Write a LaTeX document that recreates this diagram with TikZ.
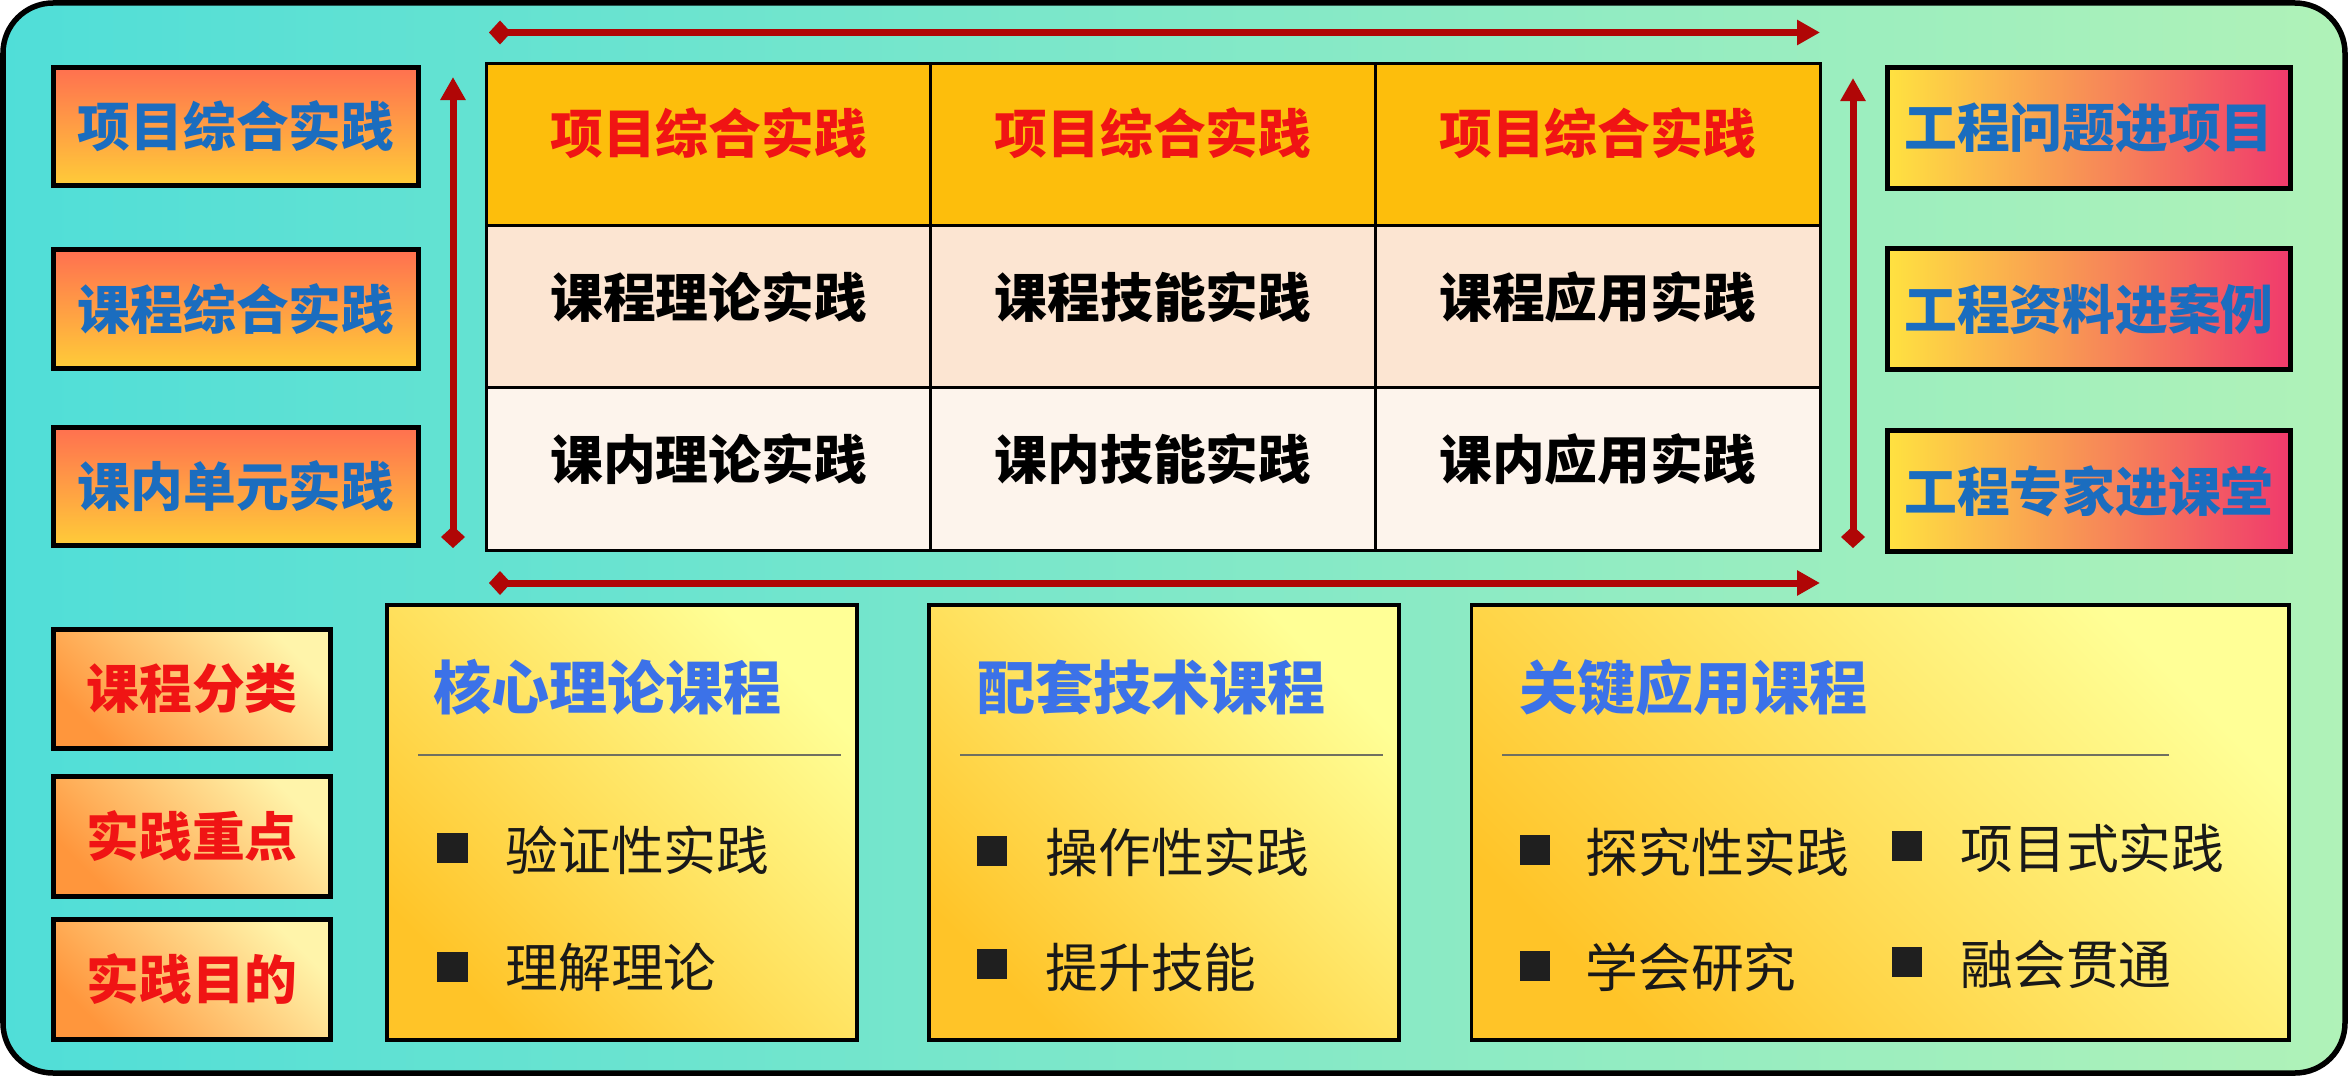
\documentclass[tikz,border=0pt]{standalone}
\usepackage{fontspec}
\setmainfont{Noto Sans CJK SC}
\newfontfamily\heavy{Noto Sans CJK SC Black}
\usetikzlibrary{arrows.meta}
\definecolor{bgL}{RGB}{80,222,216}
\definecolor{bgR}{RGB}{176,242,184}
\definecolor{lbT}{RGB}{255,112,80}
\definecolor{lbB}{RGB}{255,204,56}
\definecolor{rbL}{RGB}{255,226,64}
\definecolor{rbR}{RGB}{240,58,108}
\definecolor{txtblue}{RGB}{27,109,191}
\definecolor{titleblue}{RGB}{60,114,232}
\definecolor{rowA}{RGB}{253,190,12}
\definecolor{rowB}{RGB}{252,229,210}
\definecolor{rowC}{RGB}{253,244,236}
\definecolor{redtxt}{RGB}{240,20,20}
\definecolor{arrred}{RGB}{176,6,6}
\definecolor{byLight}{RGB}{255,255,150}
\definecolor{byDark}{RGB}{255,196,40}
\definecolor{cbLight}{RGB}{255,244,170}
\definecolor{cbDark}{RGB}{255,150,60}
\definecolor{sepgray}{RGB}{112,112,96}
\begin{document}
\begin{tikzpicture}[x=0.01cm,y=-0.01cm,
  lbox/.style={draw=black,line width=0.05cm,top color=lbT,bottom color=lbB,
    minimum width=3.65cm,minimum height=1.18cm,inner sep=0pt,text=txtblue,
    font=\heavy\fontsize{15pt}{15pt}\selectfont},
  rbox/.style={draw=black,line width=0.05cm,left color=rbL,right color=rbR,
    minimum width=4.03cm,minimum height=1.2cm,inner sep=0pt,text=txtblue,
    font=\heavy\fontsize{15pt}{15pt}\selectfont},
  cell/.style={draw=black,line width=0.03cm,minimum width=4.447cm,minimum height=1.62cm,inner sep=0pt},
  celltext/.style={inner sep=0pt,font=\heavy\fontsize{15pt}{15pt}\selectfont},
  arr/.style={draw=arrred,line width=0.07cm,{Diamond[length=0.22cm,width=0.24cm]}-{Triangle[length=0.23cm,width=0.24cm]}},
  cbox/.style={draw=black,line width=0.05cm,top color=cbLight,bottom color=cbDark,shading angle=-45,
    minimum width=2.77cm,minimum height=1.19cm,inner sep=0pt,text=redtxt,
    font=\heavy\fontsize{15pt}{15pt}\selectfont},
  bbox/.style={draw=black,line width=0.035cm,top color=byLight,bottom color=byDark,shading angle=-45,
    minimum height=4.35cm,inner sep=0pt},
  title/.style={anchor=west,inner sep=0pt,text=titleblue,font=\heavy\fontsize{16.5pt}{16.5pt}\selectfont},
  sq/.style={fill=black!88,minimum size=0.3cm,inner sep=0pt},
  btext/.style={anchor=west,inner sep=0pt,text=black!90,font=\fontsize{15pt}{15pt}\selectfont},
  sep/.style={draw=sepgray,line width=0.02cm}]
\useasboundingbox (0,0) rectangle (2348,1076);
% background
\path[draw=black,line width=0.055cm,rounded corners=0.5cm,left color=bgL,right color=bgR]
  (3,3) rectangle (2345,1073);
% left boxes
\node[lbox] (L1) at (236,126.5) {项目综合实践};
\node[lbox] (L2) at (236,309) {课程综合实践};
\node[lbox] (L3) at (236,486.5) {课内单元实践};
% right boxes
\node[rbox] (R1) at (2089,128) {工程问题进项目};
\node[rbox] (R2) at (2089,309) {工程资料进案例};
\node[rbox] (R3) at (2089,491) {工程专家进课堂};
% grid
\node[cell,fill=rowA] (c11) at (708.5,145) {};
\node[cell,fill=rowA] (c12) at (1153,145) {};
\node[cell,fill=rowA] (c13) at (1597.5,145) {};
\node[cell,fill=rowB] (c21) at (708.5,307) {};
\node[cell,fill=rowB] (c22) at (1153,307) {};
\node[cell,fill=rowB] (c23) at (1597.5,307) {};
\node[cell,fill=rowC] (c31) at (708.5,469) {};
\node[cell,fill=rowC] (c32) at (1153,469) {};
\node[cell,fill=rowC] (c33) at (1597.5,469) {};
\node[celltext,text=redtxt] (t11) at (708.5,133) {项目综合实践};
\node[celltext,text=redtxt] (t12) at (1153,133) {项目综合实践};
\node[celltext,text=redtxt] (t13) at (1597.5,133) {项目综合实践};
\node[celltext] (t21) at (708.5,297) {课程理论实践};
\node[celltext] (t22) at (1153,297) {课程技能实践};
\node[celltext] (t23) at (1597.5,297) {课程应用实践};
\node[celltext] (t31) at (708.5,459) {课内理论实践};
\node[celltext] (t32) at (1153,459) {课内技能实践};
\node[celltext] (t33) at (1597.5,459) {课内应用实践};
% arrows
\coordinate (topA) at (489,32.5);
\coordinate (topB) at (1820,32.5);
\coordinate (botA) at (489,583);
\coordinate (botB) at (1820,583);
\coordinate (lfA) at (453,548);
\coordinate (lfB) at (453,77);
\coordinate (rtA) at (1853,548);
\coordinate (rtB) at (1853,78);
\draw[arr] (topA) -- (topB);
\draw[arr] (botA) -- (botB);
\draw[arr] (lfA) -- (lfB);
\draw[arr] (rtA) -- (rtB);
% bottom-left category boxes
\node[cbox] (K1) at (192,689) {课程分类};
\node[cbox] (K2) at (192,836.5) {实践重点};
\node[cbox] (K3) at (192,979.5) {实践目的};
% bottom boxes
\node[bbox,minimum width=4.7cm] (B1) at (622,822.5) {};
\node[bbox,minimum width=4.7cm] (B2) at (1164,822.5) {};
\node[bbox,minimum width=8.17cm] (B3) at (1880,822.5) {};
\node[title] (T1) at (433,687) {核心理论课程};
\node[title] (T2) at (977,687) {配套技术课程};
\node[title] (T3) at (1519,687) {关键应用课程};
\draw[sep] (418,755) -- (841,755);
\draw[sep] (960,755) -- (1383,755);
\draw[sep] (1502,755) -- (2169,755);
% bullets box 1
\node[sq] (s11) at (452.5,848) {};
\node[btext] (x11) at (505,850) {验证性实践};
\node[sq] (s12) at (452.5,967) {};
\node[btext] (x12) at (505,967) {理解理论};
% bullets box 2
\node[sq] (s21) at (992,851) {};
\node[btext] (x21) at (1045,852) {操作性实践};
\node[sq] (s22) at (992,964) {};
\node[btext] (x22) at (1045,967) {提升技能};
% bullets box 3
\node[sq] (s31) at (1534.5,850) {};
\node[btext] (x31) at (1585,852) {探究性实践};
\node[sq] (s32) at (1534.5,966) {};
\node[btext] (x32) at (1585,967) {学会研究};
\node[sq] (s33) at (1906.5,846) {};
\node[btext] (x33) at (1960,848) {项目式实践};
\node[sq] (s34) at (1906.5,962) {};
\node[btext] (x34) at (1960,964) {融会贯通};
\end{tikzpicture}
\end{document}
